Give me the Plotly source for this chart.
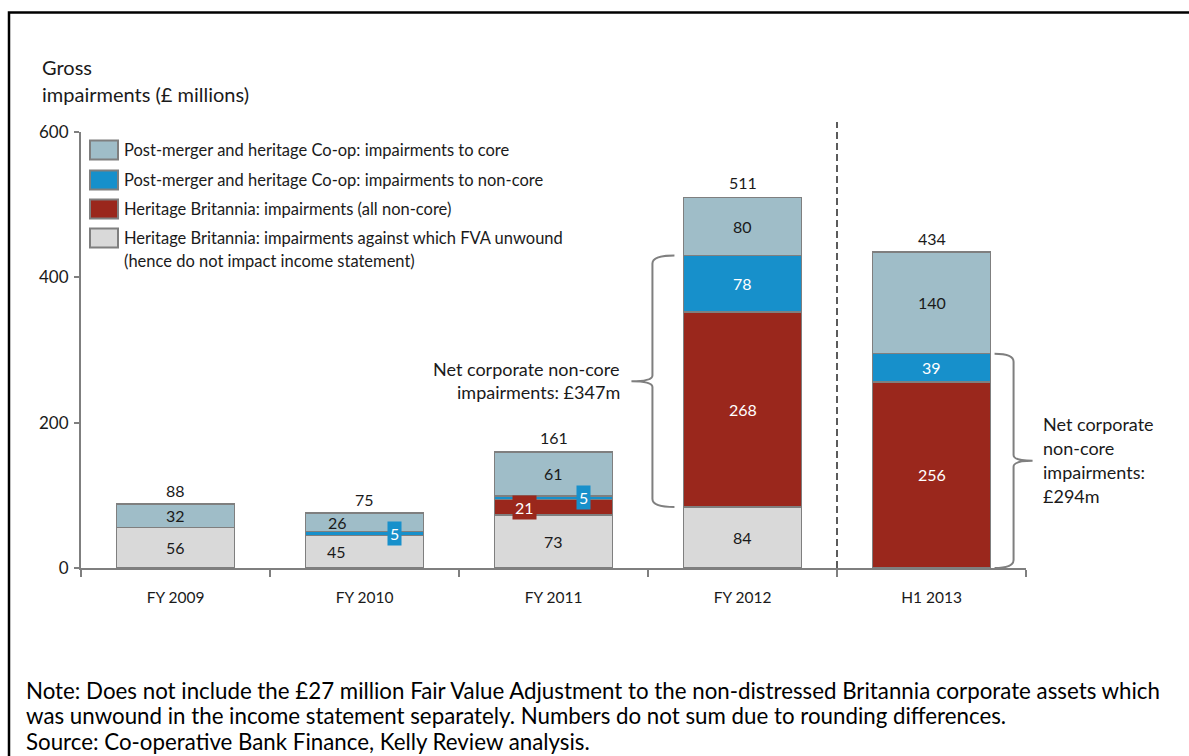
import plotly.graph_objects as go

# ---------------- data ----------------
categories = ["FY 2009", "FY 2010", "FY 2011", "FY 2012", "H1 2013"]
fva_unwound = [56, 45, 73, 84, None]          # Heritage Britannia: impairments against which FVA unwound
britannia = [None, None, 21, 268, 256]        # Heritage Britannia: impairments (all non-core)
coop_noncore = [None, 5, 5, 78, 39]           # Post-merger and heritage Co-op: non-core
coop_core = [32, 26, 61, 80, 140]             # Post-merger and heritage Co-op: core
totals = [88, 75, 161, 511, 434]
y_ticks = [0, 200, 400, 600]

series_names = [
    "Heritage Britannia: impairments against which FVA unwound<br>(hence do not impact income statement)",
    "Heritage Britannia: impairments (all non-core)",
    "Post-merger and heritage Co-op: impairments to non-core",
    "Post-merger and heritage Co-op: impairments to core",
]
series_values = [fva_unwound, britannia, coop_noncore, coop_core]

note_lines = [
    "Note: Does not include the £27 million Fair Value Adjustment to the non-distressed Britannia corporate assets which",
    "was unwound in the income statement separately. Numbers do not sum due to rounding differences.",
    "Source: Co-operative Bank Finance, Kelly Review analysis.",
]

# ---------------- style / layout ----------------
colors = ["#d9d9d9", "#9a271c", "#1790cb", "#9fbdc8"]
text_colors = ["#1a1a1a", "#ffffff", "#ffffff", "#1a1a1a"]
outline = "#7f7f7f"
FONT = "Lato"
TXT = "#1a1a1a"

W, H = 1189, 756
L, R, T, B = 81, 163, 132, 188
PW, PH = W - L - R, H - T - B
YR = [0, 600]
BAR_W = 0.625
X_PX = PW / len(categories)       # px per category
Y_PX = PH / (YR[1] - YR[0])       # px per unit


def xpap(px):
    return (px - L) / PW


def ypap(py):
    return (H - B - py) / PH


# per-label horizontal offsets (px) and boxed flags, per series x category
label_shift = [
    [0, -28, 0, 0, 0],
    [0, 0, -29, 0, 0],
    [0, 30, 30, 0, 0],
    [0, -27, 0, 0, 0],
]
label_boxed = [
    [False] * 5,
    [False, False, True, False, False],
    [False, True, True, False, False],
    [False] * 5,
]

fig = go.Figure()
for name, vals, col in zip(series_names, series_values, colors):
    fig.add_trace(go.Bar(
        x=categories, y=vals, name=name, width=BAR_W,
        marker=dict(color=col, line=dict(color=outline, width=1.6)),
        showlegend=False, hoverinfo="skip",
    ))

annotations = []
# segment labels
base = [0] * len(categories)
for s, vals in enumerate(series_values):
    for i, v in enumerate(vals):
        if v is None:
            continue
        mid = base[i] + v / 2
        boxed = label_boxed[s][i]
        annotations.append(dict(
            x=categories[i], y=mid, xref="x", yref="y", text=str(v), showarrow=False,
            xshift=label_shift[s][i], yanchor="middle",
            font=dict(family=FONT, size=16, color=text_colors[s]),
            bgcolor=colors[s] if boxed else None, borderpad=2,
        ))
        base[i] += v

# totals
for i, t in enumerate(totals):
    annotations.append(dict(
        x=categories[i], y=t, xref="x", yref="y", text=str(t), showarrow=False,
        yshift=14, yanchor="middle", font=dict(family=FONT, size=16, color=TXT),
    ))

# title
annotations.append(dict(x=xpap(40), y=ypap(67), xref="paper", yref="paper", text="Gross",
                        showarrow=False, xanchor="left", yanchor="middle",
                        font=dict(family=FONT, size=20, color=TXT)))
annotations.append(dict(x=xpap(40), y=ypap(94), xref="paper", yref="paper",
                        text="impairments (£ millions)",
                        showarrow=False, xanchor="left", yanchor="middle",
                        font=dict(family=FONT, size=20, color=TXT)))

shapes = []
# manual legend (top to bottom: core, non-core, Britannia, FVA)
legend_rows = [150, 180, 209, 238]
for row, s in zip(legend_rows, [3, 2, 1, 0]):
    shapes.append(dict(type="rect", xref="paper", yref="paper",
                       x0=xpap(90), x1=xpap(118), y0=ypap(row - 9.5), y1=ypap(row + 9.5),
                       fillcolor=colors[s], line=dict(color=outline, width=2)))
    lines = series_names[s].split("<br>")
    for k, ln in enumerate(lines):
        annotations.append(dict(x=xpap(122), y=ypap(row + 23 * k), xref="paper", yref="paper",
                                text=ln, showarrow=False, xanchor="left", yanchor="middle",
                                font=dict(family=FONT, size=16.5, color=TXT)))


def brace(x_hook, x_stem, x_point, y_top, y_bot, r=11, r2=8):
    """Curly brace path: x in paper coords, y in data coords."""
    y_mid = (y_top + y_bot) / 2
    return (f"M {x_hook},{y_top} Q {x_stem},{y_top} {x_stem},{y_top - r} "
            f"L {x_stem},{y_mid + r2} Q {x_stem},{y_mid} {x_point},{y_mid} "
            f"Q {x_stem},{y_mid} {x_stem},{y_mid - r2} "
            f"L {x_stem},{y_bot + r} Q {x_stem},{y_bot} {x_hook},{y_bot}")


# FY 2012 brace (left of bar) covering Britannia + Co-op non-core
i12 = 3
left_edge = L + (i12 + 0.5 - BAR_W / 2) * X_PX
b12_bot = fva_unwound[i12]
b12_top = fva_unwound[i12] + britannia[i12] + coop_noncore[i12]
shapes.append(dict(type="path", xref="paper", yref="y",
                   path=brace(xpap(left_edge - 9), xpap(left_edge - 31), xpap(left_edge - 52),
                              b12_top, b12_bot),
                   line=dict(color=outline, width=2)))
mid12 = (b12_top + b12_bot) / 2
annotations.append(dict(x=xpap(left_edge - 61), y=mid12, xref="paper", yref="y",
                        text="Net corporate non-core", showarrow=False, xanchor="right",
                        yanchor="middle", yshift=12, font=dict(family=FONT, size=18, color=TXT)))
annotations.append(dict(x=xpap(left_edge - 61), y=mid12, xref="paper", yref="y",
                        text="impairments: £347m", showarrow=False, xanchor="right",
                        yanchor="middle", yshift=-11, font=dict(family=FONT, size=18, color=TXT)))

# H1 2013 brace (right of bar)
i13 = 4
right_edge = L + (i13 + 0.5 + BAR_W / 2) * X_PX
b13_top = britannia[i13] + coop_noncore[i13]
b13_bot = 0
shapes.append(dict(type="path", xref="paper", yref="y",
                   path=brace(xpap(right_edge + 4), xpap(right_edge + 23), xpap(right_edge + 42),
                              b13_top, b13_bot),
                   line=dict(color=outline, width=2)))
mid13 = (b13_top + b13_bot) / 2
for k, ln in enumerate(["Net corporate", "non-core", "impairments:", "£294m"]):
    annotations.append(dict(x=xpap(right_edge + 50), y=mid13, xref="paper", yref="y",
                            text=ln, showarrow=False, xanchor="left", yanchor="middle",
                            yshift=37 - 24 * k, font=dict(family=FONT, size=18, color=TXT)))

# dashed separator between FY 2012 and H1 2013
shapes.append(dict(type="line", xref="x", yref="paper", x0=3.5, x1=3.5, y0=0, y1=1 + 10 / PH,
                   line=dict(color="#333333", width=1.6, dash="7px,4px")))

# note lines
for k, ln in enumerate(note_lines):
    annotations.append(dict(x=xpap(24), y=ypap(690 + 25.5 * k), xref="paper", yref="paper",
                            text=ln, showarrow=False, xanchor="left", yanchor="middle",
                            font=dict(family=FONT, size=22.3, color="#000000")))

# outer frame
shapes.append(dict(type="rect", xref="paper", yref="paper",
                   x0=xpap(9), x1=xpap(1250), y0=ypap(12.5), y1=ypap(900),
                   line=dict(color="#000000", width=2.5), fillcolor="rgba(0,0,0,0)", layer="above"))

fig.update_layout(
    width=W, height=H, barmode="stack",
    margin=dict(l=L, r=R, t=T, b=B),
    plot_bgcolor="white", paper_bgcolor="white",
    showlegend=False, hovermode=False,
    xaxis=dict(type="category", range=[-0.5, len(categories) - 0.5], tickson="boundaries",
               ticks="outside", ticklen=7, tickwidth=2, tickcolor=outline,
               showline=True, linecolor=outline, linewidth=2, showgrid=False,
               tickfont=dict(family=FONT, size=15.5, color=TXT), ticklabelstandoff=14),
    yaxis=dict(range=YR, tickvals=y_ticks, ticks="outside", ticklen=5, tickwidth=2,
               tickcolor=outline, showline=True, linecolor=outline, linewidth=2,
               showgrid=False, zeroline=False,
               tickfont=dict(family=FONT, size=17, color=TXT), ticklabelstandoff=2),
    annotations=annotations, shapes=shapes,
)

fig.write_html(
    "out.html",
    config={"displayModeBar": False},
    post_script="document.body.style.margin='0';document.body.style.overflow='hidden';",
)
